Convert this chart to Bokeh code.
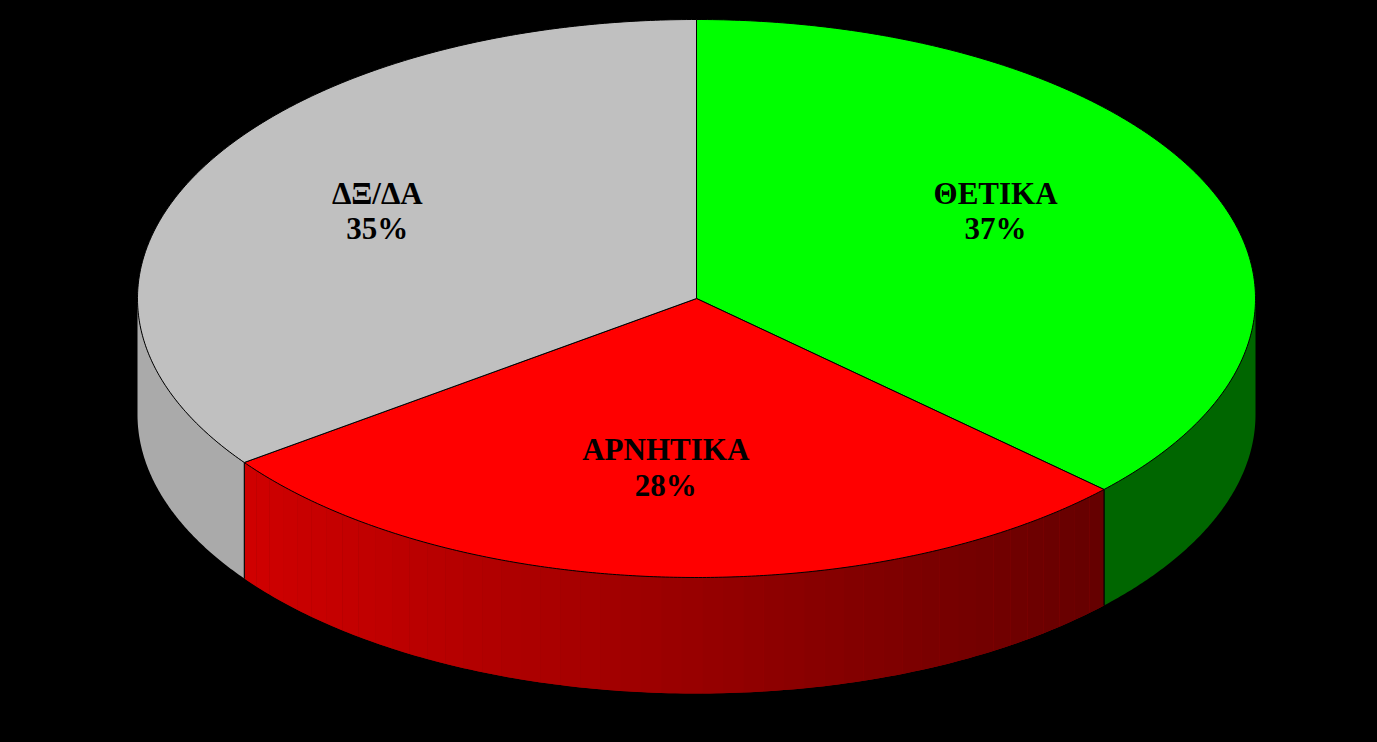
import math
from bokeh.embed import file_html
from bokeh.resources import INLINE
from bokeh.models import Range1d
from bokeh.plotting import figure
from bokeh.core.properties import value

# data
categories = ["ΘΕΤΙΚΑ", "ΑΡΝΗΤΙΚΑ", "ΔΞ/ΔΑ"]
shares = [37, 28, 35]
percent_labels = ["37%", "28%", "35%"]

# style
top_colors = ["#00ff00", "#ff0000", "#c0c0c0"]
wall_left = [(0, 102, 0), (208, 0, 0), (170, 170, 170)]
wall_right = [(0, 102, 0), (100, 0, 0), (170, 170, 170)]

# layout (screen pixels)
W, H = 1377, 742
CX, CY, RX, RY, DEPTH = 696.0, 298.0, 559.0, 279.0, 116.0
LABEL_DX = [0.535, -0.055, -0.571]
LABEL_DY = [-0.312, 0.606, -0.312]
LINE_GAP = 18

p = figure(width=W, height=H, x_range=Range1d(0, W), y_range=Range1d(H, 0),
           output_backend="svg", toolbar_location=None, min_border=0,
           background_fill_color="#000000", border_fill_color="#000000", outline_line_color=None)
p.axis.visible = False
p.grid.visible = False


def pt(t):
    return CX + RX * math.sin(t), CY - RY * math.cos(t)


def wall_outline(a, b, steps):
    top = [pt(a + (b - a) * j / steps) for j in range(steps + 1)]
    return ([q[0] for q in top] + [q[0] for q in reversed(top)],
            [q[1] for q in top] + [q[1] + DEPTH for q in reversed(top)])


total = sum(shares)
bounds = [0.0]
for s in shares:
    bounds.append(bounds[-1] + s / total * 2 * math.pi)

for i in range(len(shares)):
    lo = max(bounds[i], math.pi / 2)
    hi = min(bounds[i + 1], 3 * math.pi / 2)
    if lo >= hi:
        continue
    x_lo, x_hi = sorted((pt(lo)[0], pt(hi)[0]))
    left, right = wall_left[i], wall_right[i]
    # flat base under the wall, so that no seam shows between its bands
    mid = tuple(round((a + b) / 2) for a, b in zip(left, right))
    bx, by = wall_outline(lo, hi, 120)
    p.patch(bx, by, fill_color="#%02x%02x%02x" % mid, line_color=None)
    if left != right:
        n = 48
        xs, ys, cols = [], [], []
        for k in range(n):
            t0 = lo + (hi - lo) * k / n
            t1 = lo + (hi - lo) * (k + 1) / n
            sx, sy = wall_outline(t0, t1, 3)
            f = ((sx[0] + sx[3]) / 2 - x_lo) / (x_hi - x_lo)
            c = [round(a + (b - a) * f) for a, b in zip(left, right)]
            xs.append(sx)
            ys.append(sy)
            cols.append("#%02x%02x%02x" % tuple(c))
        p.patches(xs, ys, fill_color=cols, line_color=None)
    for t in (lo, hi):
        if abs(t - math.pi / 2) > 1e-6 and abs(t - 3 * math.pi / 2) > 1e-6:
            x0, y0 = pt(t)
            p.line([x0, x0], [y0, y0 + DEPTH], line_color="#000000", line_width=1)

for i in range(len(shares)):
    n = 240
    arc = [pt(bounds[i] + (bounds[i + 1] - bounds[i]) * k / n) for k in range(n + 1)]
    p.patch([CX] + [q[0] for q in arc], [CY] + [q[1] for q in arc],
            fill_color=top_colors[i], line_color="#000000", line_width=1)

for i, (name, pct) in enumerate(zip(categories, percent_labels)):
    x = CX + LABEL_DX[i] * RX
    y = CY + LABEL_DY[i] * RY
    for txt, off in ((name, -LINE_GAP), (pct, LINE_GAP - 0.5)):
        p.text([x], [y], text=[txt], y_offset=off, text_align="center", text_baseline="middle",
               text_font=value("Liberation Serif"), text_font_style="bold",
               text_font_size="31px", text_color="#000000")

html = file_html(p, INLINE)
html = html.replace("</head>", "<style>html,body{background:#000000;overflow:hidden;}</style></head>", 1)
open("out.html", "w").write(html)
